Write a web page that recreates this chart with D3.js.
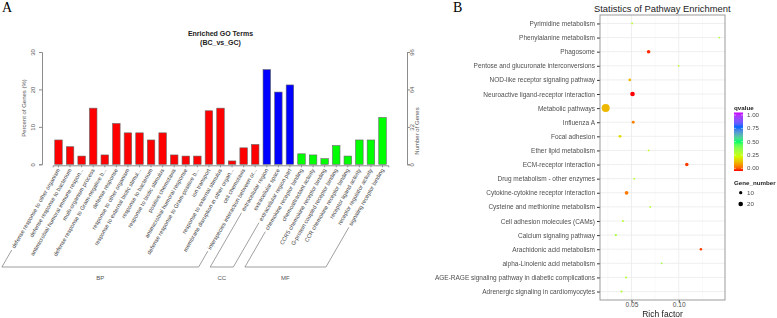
<!DOCTYPE html>
<html>
<head>
<meta charset="utf-8">
<script src="https://cdn.jsdelivr.net/npm/d3@7/dist/d3.min.js"></script>
<style>
  body { margin: 0; background: #fff; }
  svg { display: block; }
  text { font-family: "Liberation Sans", Arial, sans-serif; }
  .gray-aa { opacity: 0.995; }
</style>
</head>
<body>
<svg id="chart" width="777" height="318"></svg>
<script>
// ---- panel A : enriched GO terms ----
const goTerms = [
  "defense response to other organism",
  "defense response to bacterium",
  "antimicrobial humoral immune respon...",
  "multi-organism process",
  "defense response to Gram-negative b...",
  "defense response",
  "response to other organism",
  "response to external biotic stimul...",
  "response to bacterium",
  "response to biotic stimulus",
  "positive chemotaxis",
  "antimicrobial humoral response",
  "defense response to Gram-positive b...",
  "ion transport",
  "response to external stimulus",
  "membrane disruption in other organ...",
  "cell chemotaxis",
  "interspecies interaction between or...",
  "extracellular region",
  "extracellular space",
  "extracellular region part",
  "chemokine receptor binding",
  "chemoattractant activity",
  "CCR5 chemokine receptor binding",
  "G-protein coupled receptor binding",
  "CCR chemokine receptor binding",
  "receptor ligand activity",
  "receptor regulator activity",
  "signaling receptor binding"
];
const goPercent = [6.5, 4.7, 2.2, 15.0, 2.5, 10.9, 8.4, 8.4, 6.5, 8.4, 2.5, 2.2, 2.2,
                   14.3, 15.0, 0.9, 4.4, 5.3, 25.3, 19.3, 21.2,
                   2.8, 2.5, 1.5, 5.0, 2.2, 6.5, 6.5, 12.5];
const goGroup = ["BP","BP","BP","BP","BP","BP","BP","BP","BP","BP","BP","BP","BP",
                 "BP","BP","BP","BP","BP","CC","CC","CC",
                 "MF","MF","MF","MF","MF","MF","MF","MF"];
const groupNames = ["BP", "CC", "MF"];
const percentTicks = [0, 10, 20, 30];
const geneTicks = [0, 32, 64, 96];

// ---- panel B : KEGG pathway enrichment ----
const pathways = [
  "Pyrimidine metabolism",
  "Phenylalanine metabolism",
  "Phagosome",
  "Pentose and glucuronate interconversions",
  "NOD-like receptor signaling pathway",
  "Neuroactive ligand-receptor interaction",
  "Metabolic pathways",
  "Influenza A",
  "Focal adhesion",
  "Ether lipid metabolism",
  "ECM-receptor interaction",
  "Drug metabolism - other enzymes",
  "Cytokine-cytokine receptor interaction",
  "Cysteine and methionine metabolism",
  "Cell adhesion molecules (CAMs)",
  "Calcium signaling pathway",
  "Arachidonic acid metabolism",
  "alpha-Linolenic acid metabolism",
  "AGE-RAGE signaling pathway in diabetic complications",
  "Adrenergic signaling in cardiomyocytes"
];
const richFactor = [0.0507, 0.1429, 0.0681, 0.0999, 0.0482, 0.0511, 0.0227, 0.0518, 0.0379, 0.0681,
                    0.1085, 0.0529, 0.0448, 0.0698, 0.0409, 0.0334, 0.1234, 0.0819, 0.0443, 0.0394];
const qvalue = [0.30, 0.32, 0.01, 0.30, 0.15, 0.00, 0.15, 0.08, 0.20, 0.28,
                0.02, 0.30, 0.07, 0.30, 0.30, 0.33, 0.02, 0.35, 0.32, 0.32];
const geneNumber = [3, 3, 12, 3, 7, 20, 60, 8, 8, 3,
                    12, 3, 13, 3, 4, 5, 6, 3, 4, 4];
const richTicks = [0.05, 0.10];
const richMinor = [0.025, 0.075, 0.125];
const qTicks = [0, 0.25, 0.5, 0.75, 1];
const sizeLegend = [10, 20];

const svg = d3.select("#chart");
svg.append("rect").attr("width", 777).attr("height", 318).attr("fill", "#fff");

// ================= panel A =================
const groupColor = d3.scaleOrdinal().domain(groupNames).range(["#ff0000", "#0000ff", "#00ff00"]);
const axisGrey = "#8c8c8c";
const labGrey = "#555";

const x = d3.scaleBand().domain(goTerms).range([52.7, 388.3]).paddingInner(0.35).paddingOuter(0.175);
const yPct = d3.scaleLinear().domain([0, 30]).range([164.3, 52]);
const yGene = d3.scaleLinear().domain([0, 96]).range([164.3, 52]);

const gA = svg.append("g");

gA.append("text").attr("x", 2).attr("y", 12)
  .style("font-family", "'Liberation Serif', serif").style("font-size", "14px").text("A");

gA.append("text").attr("x", 220.5).attr("y", 35.5).attr("text-anchor", "middle")
  .style("font-size", "7px").style("font-weight", "bold").attr("fill", "#222").text("Enriched GO Terms");
gA.append("text").attr("x", 220.5).attr("y", 44.5).attr("text-anchor", "middle")
  .style("font-size", "7px").style("font-weight", "bold").attr("fill", "#222").text("(BC_vs_GC)");

gA.selectAll("rect.bar").data(goTerms).join("rect")
  .attr("class", "bar")
  .attr("x", d => x(d))
  .attr("width", x.bandwidth())
  .attr("y", (d, i) => yPct(goPercent[i]))
  .attr("height", (d, i) => yPct(0) - yPct(goPercent[i]))
  .attr("fill", (d, i) => groupColor(goGroup[i]))
  .attr("stroke", "#666").attr("stroke-width", 0.6);

// left axis
const leftAxis = gA.append("g").attr("transform", "translate(42,0)")
  .call(d3.axisLeft(yPct).tickValues(percentTicks).tickSize(3).tickPadding(3));
// right axis
const rightAxis = gA.append("g").attr("transform", "translate(407,0)")
  .call(d3.axisRight(yGene).tickValues(geneTicks).tickSize(3).tickPadding(3));
[leftAxis, rightAxis].forEach(ax => {
  ax.select(".domain").attr("stroke", axisGrey);
  ax.selectAll(".tick line").attr("stroke", axisGrey);
  ax.selectAll(".tick text").attr("fill", labGrey).style("font-size", "6px")
    .attr("text-anchor", "middle").attr("dy", 0);
});
leftAxis.selectAll(".tick text").attr("x", 0).attr("y", 0)
  .attr("transform", "translate(-7,0) rotate(-90)");
rightAxis.selectAll(".tick text").attr("x", 0).attr("y", 0)
  .attr("transform", "translate(6.5,0) rotate(-90)");

gA.append("text").attr("transform", "translate(26,108) rotate(-90)")
  .attr("text-anchor", "middle").style("font-size", "6px").attr("fill", labGrey).text("Percent of Genes (%)");
gA.append("text").attr("transform", "translate(419,131) rotate(-90)")
  .attr("text-anchor", "middle").style("font-size", "6px").attr("fill", labGrey).text("Number of Genes");

// bottom axis
const bottomAxis = gA.append("g").attr("transform", "translate(0,165.3)")
  .call(d3.axisBottom(x).tickSize(2).tickFormat(""));
bottomAxis.select(".domain").attr("stroke", axisGrey);
bottomAxis.selectAll(".tick line").attr("stroke", axisGrey);

// slanted term labels
const angle = 60 * Math.PI / 180;
const labelTopY = 169;
const labels = gA.selectAll("text.term").data(goTerms).join("text")
  .attr("class", "term")
  .attr("text-anchor", "end")
  .attr("transform", d => `translate(${x(d) + x.bandwidth() / 2},${labelTopY}) rotate(-60)`)
  .attr("dy", "0.35em")
  .style("font-size", "5.7px").attr("fill", "#444")
  .text(d => d);

// group brackets following the label direction
const bracketY = 267;
const ends = [];
labels.each(function (d) {
  const L = this.getComputedTextLength() + 2.5;
  const cx = x(d) + x.bandwidth() / 2;
  const px = cx - L * Math.cos(angle), py = labelTopY + L * Math.sin(angle);
  ends.push({ px, py, bx: px - (bracketY - py) / Math.tan(angle) });
});
groupNames.forEach(g => {
  const idx = goGroup.map((v, i) => v === g ? i : -1).filter(i => i >= 0);
  const a = ends[idx[0]], b = ends[idx[idx.length - 1]];
  gA.append("path")
    .attr("d", `M${a.px},${a.py}L${a.bx},${bracketY}L${b.bx},${bracketY}L${b.px},${b.py}`)
    .attr("fill", "none").attr("stroke", "#777").attr("stroke-width", 0.7);
  gA.append("text").attr("x", (a.bx + b.bx) / 2).attr("y", bracketY + 13)
    .attr("text-anchor", "middle").style("font-size", "6px").attr("fill", labGrey).text(g);
});

// ================= panel B =================
const gB = svg.append("g");
const px0 = 600, px1 = 725, py0 = 15, py1 = 300;

gB.append("text").attr("x", 453).attr("y", 12)
  .style("font-family", "'Liberation Serif', serif").style("font-size", "14px").text("B");
gB.append("text").attr("x", 594).attr("y", 11.5)
  .style("font-size", "9.4px").attr("fill", "#222").text("Statistics of Pathway Enrichment");

const xr = d3.scaleLinear().domain([0.0167, 0.1489]).range([px0, px1]);
const yr = d3.scalePoint().domain(pathways).range([py0, py1]).padding(0.6);
const rScale = d3.scaleSqrt().domain([0, 60]).range([0, 4]);

const qColor = d3.scaleLinear()
  .domain([0, 0.25, 0.5, 0.75, 1])
  .range(["#ff0000", "#ccff00", "#00ff66", "#0066ff", "#cc00ff"])
  .interpolate(d3.interpolateLab);

// grid
gB.selectAll("line.minor").data(richMinor).join("line")
  .attr("x1", d => xr(d)).attr("x2", d => xr(d)).attr("y1", py0).attr("y2", py1)
  .attr("stroke", "#f2f2f2").attr("stroke-width", 0.5);
gB.selectAll("line.vmajor").data(richTicks).join("line")
  .attr("x1", d => xr(d)).attr("x2", d => xr(d)).attr("y1", py0).attr("y2", py1)
  .attr("stroke", "#ebebeb").attr("stroke-width", 0.8);
gB.selectAll("line.hmajor").data(pathways).join("line")
  .attr("x1", px0).attr("x2", px1).attr("y1", d => yr(d)).attr("y2", d => yr(d))
  .attr("stroke", "#ebebeb").attr("stroke-width", 0.8);

// axes
const yAxB = gB.append("g").attr("class", "gray-aa").attr("transform", `translate(${px0},0)`)
  .call(d3.axisLeft(yr).tickSize(3).tickPadding(2));
yAxB.select(".domain").remove();
yAxB.selectAll(".tick line").attr("stroke", "#333");
yAxB.selectAll(".tick text").attr("fill", "#4d4d4d").style("font-size", "6.5px");

const xAxB = gB.append("g").attr("class", "gray-aa").attr("transform", `translate(0,${py1})`)
  .call(d3.axisBottom(xr).tickValues(richTicks).tickFormat(d3.format(".2f")).tickSize(2.5).tickPadding(0));
xAxB.select(".domain").remove();
xAxB.selectAll(".tick line").attr("stroke", "#333");
xAxB.selectAll(".tick text").attr("fill", "#4d4d4d").style("font-size", "6.6px");

gB.append("text").attr("x", (px0 + px1) / 2).attr("y", 317).attr("text-anchor", "middle")
  .style("font-size", "8.5px").attr("fill", "#222").text("Rich factor");

// points
gB.selectAll("circle.pt").data(pathways).join("circle")
  .attr("class", "pt")
  .attr("cx", (d, i) => xr(richFactor[i]))
  .attr("cy", d => yr(d))
  .attr("r", (d, i) => rScale(geneNumber[i]))
  .attr("fill", (d, i) => qColor(qvalue[i]));

gB.append("rect").attr("x", px0).attr("y", py0).attr("width", px1 - px0).attr("height", py1 - py0)
  .attr("fill", "none").attr("stroke", "#909090").attr("stroke-width", 0.9);

// colour legend
const lgX = 734;
gB.append("text").attr("x", lgX).attr("y", 110).style("font-size", "6.2px").style("font-weight", "bold")
  .attr("fill", "#222").text("qvalue");
const grad = svg.append("defs").append("linearGradient").attr("id", "qgrad")
  .attr("x1", 0).attr("x2", 0).attr("y1", 1).attr("y2", 0);
grad.selectAll("stop").data(d3.range(0, 1.0001, 0.05)).join("stop")
  .attr("offset", d => d).attr("stop-color", d => qColor(d));
const qy = d3.scaleLinear().domain([0, 1]).range([168.3, 115]);
gB.append("rect").attr("x", lgX).attr("y", 112.5).attr("width", 9).attr("height", 58.5)
  .attr("fill", "url(#qgrad)");
gB.selectAll("line.qt").data(qTicks).join("line")
  .attr("x1", lgX).attr("x2", lgX + 2).attr("y1", d => qy(d)).attr("y2", d => qy(d)).attr("stroke", "#fff").attr("stroke-width", 0.5);
gB.selectAll("line.qt2").data(qTicks).join("line")
  .attr("x1", lgX + 7).attr("x2", lgX + 9).attr("y1", d => qy(d)).attr("y2", d => qy(d)).attr("stroke", "#fff").attr("stroke-width", 0.5);
gB.selectAll("text.qt").data(qTicks).join("text")
  .attr("x", 747).attr("y", d => qy(d)).attr("dy", "0.35em")
  .style("font-size", "6.2px").attr("fill", "#4d4d4d").text(d => d3.format(".2f")(d));

// size legend
gB.append("text").attr("x", lgX).attr("y", 185).style("font-size", "6.2px").style("font-weight", "bold")
  .attr("fill", "#222").text("Gene_number");
const sy = d3.scalePoint().domain(sizeLegend).range([192.7, 204]);
gB.selectAll("circle.sl").data(sizeLegend).join("circle")
  .attr("cx", 740.7).attr("cy", d => sy(d)).attr("r", d => rScale(d)).attr("fill", "#000");
gB.selectAll("text.sl").data(sizeLegend).join("text")
  .attr("x", 747).attr("y", d => sy(d)).attr("dy", "0.35em")
  .style("font-size", "6.2px").attr("fill", "#4d4d4d").text(d => d);
</script>
</body>
</html>
